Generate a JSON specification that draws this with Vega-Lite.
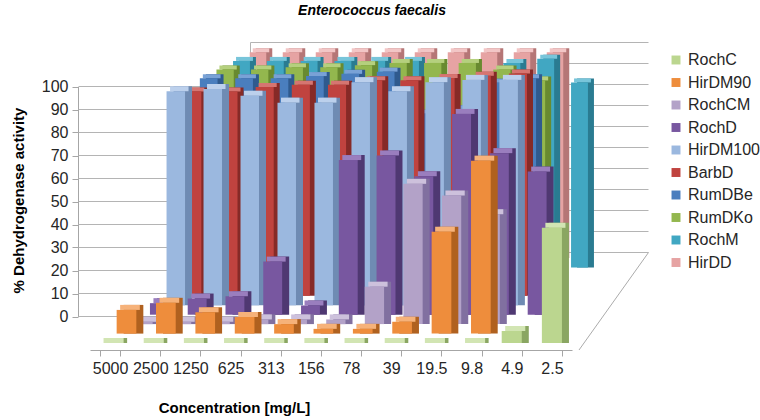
{
"$schema":"https://vega.github.io/schema/vega-lite/v6.json",
"width":760,"height":398,
"autosize":{"type":"none"},
"padding":{"left":0,"right":0,"top":22,"bottom":0},
"config":{"font":"Liberation Sans","view":{"stroke":null},"legend":{"labelFont":"Liberation Sans"}},
"title":{"text":"Enterococcus faecalis","fontSize":14,"fontWeight":"bold","fontStyle":"italic","color":"#000000","anchor":"middle","offset":4,"dx":-8},
"data":{"values":[
{"series":"RochC","conc":"5000","value":0},{"series":"RochC","conc":"2500","value":0},{"series":"RochC","conc":"1250","value":0},{"series":"RochC","conc":"625","value":0},{"series":"RochC","conc":"313","value":0},{"series":"RochC","conc":"156","value":0},{"series":"RochC","conc":"78","value":0},{"series":"RochC","conc":"39","value":0},{"series":"RochC","conc":"19.5","value":0},{"series":"RochC","conc":"9.8","value":0},{"series":"RochC","conc":"4.9","value":5},{"series":"RochC","conc":"2.5","value":48},
{"series":"HirDM90","conc":"5000","value":10},{"series":"HirDM90","conc":"2500","value":13},{"series":"HirDM90","conc":"1250","value":9},{"series":"HirDM90","conc":"625","value":7},{"series":"HirDM90","conc":"313","value":4},{"series":"HirDM90","conc":"156","value":2},{"series":"HirDM90","conc":"78","value":2},{"series":"HirDM90","conc":"39","value":5},{"series":"HirDM90","conc":"19.5","value":43},{"series":"HirDM90","conc":"9.8","value":73},
{"series":"RochCM","conc":"5000","value":1},{"series":"RochCM","conc":"2500","value":1},{"series":"RochCM","conc":"1250","value":1},{"series":"RochCM","conc":"625","value":2},{"series":"RochCM","conc":"313","value":2},{"series":"RochCM","conc":"156","value":2},{"series":"RochCM","conc":"78","value":16},{"series":"RochCM","conc":"39","value":60},{"series":"RochCM","conc":"19.5","value":55},{"series":"RochCM","conc":"9.8","value":47},
{"series":"RochD","conc":"5000","value":5},{"series":"RochD","conc":"2500","value":7},{"series":"RochD","conc":"1250","value":8},{"series":"RochD","conc":"625","value":23},{"series":"RochD","conc":"313","value":4},{"series":"RochD","conc":"156","value":67},{"series":"RochD","conc":"78","value":69},{"series":"RochD","conc":"39","value":60},{"series":"RochD","conc":"19.5","value":87},{"series":"RochD","conc":"9.8","value":70},{"series":"RochD","conc":"4.9","value":62},
{"series":"HirDM100","conc":"5000","value":94},{"series":"HirDM100","conc":"2500","value":95},{"series":"HirDM100","conc":"1250","value":92},{"series":"HirDM100","conc":"625","value":89},{"series":"HirDM100","conc":"313","value":89},{"series":"HirDM100","conc":"156","value":98},{"series":"HirDM100","conc":"78","value":94},{"series":"HirDM100","conc":"39","value":98},{"series":"HirDM100","conc":"19.5","value":99},{"series":"HirDM100","conc":"9.8","value":99},
{"series":"BarbD","conc":"5000","value":91},{"series":"BarbD","conc":"2500","value":91},{"series":"BarbD","conc":"1250","value":93},{"series":"BarbD","conc":"625","value":94},{"series":"BarbD","conc":"313","value":94},{"series":"BarbD","conc":"156","value":96},{"series":"BarbD","conc":"78","value":96},{"series":"BarbD","conc":"39","value":97},{"series":"BarbD","conc":"19.5","value":98},{"series":"BarbD","conc":"9.8","value":99},
{"series":"RumDBe","conc":"5000","value":94},{"series":"RumDBe","conc":"2500","value":94},{"series":"RumDBe","conc":"1250","value":94},{"series":"RumDBe","conc":"625","value":95},{"series":"RumDBe","conc":"313","value":96},{"series":"RumDBe","conc":"156","value":97},{"series":"RumDBe","conc":"78","value":78},{"series":"RumDBe","conc":"39","value":80},{"series":"RumDBe","conc":"19.5","value":92},{"series":"RumDBe","conc":"9.8","value":94},
{"series":"RumDKo","conc":"5000","value":95},{"series":"RumDKo","conc":"2500","value":95},{"series":"RumDKo","conc":"1250","value":96},{"series":"RumDKo","conc":"625","value":96},{"series":"RumDKo","conc":"313","value":97},{"series":"RumDKo","conc":"156","value":98},{"series":"RumDKo","conc":"78","value":98},{"series":"RumDKo","conc":"39","value":98},{"series":"RumDKo","conc":"19.5","value":95},{"series":"RumDKo","conc":"9.8","value":90},
{"series":"RochM","conc":"5000","value":96},{"series":"RochM","conc":"2500","value":96},{"series":"RochM","conc":"1250","value":96},{"series":"RochM","conc":"625","value":96},{"series":"RochM","conc":"313","value":96},{"series":"RochM","conc":"156","value":96},{"series":"RochM","conc":"78","value":80},{"series":"RochM","conc":"39","value":80},{"series":"RochM","conc":"19.5","value":95},{"series":"RochM","conc":"9.8","value":97},{"series":"RochM","conc":"4.9","value":86},
{"series":"HirDD","conc":"5000","value":97},{"series":"HirDD","conc":"2500","value":97},{"series":"HirDD","conc":"1250","value":97},{"series":"HirDD","conc":"625","value":97},{"series":"HirDD","conc":"313","value":97},{"series":"HirDD","conc":"156","value":97},{"series":"HirDD","conc":"78","value":97},{"series":"HirDD","conc":"39","value":97},{"series":"HirDD","conc":"19.5","value":97},{"series":"HirDD","conc":"9.8","value":97}
]},
"resolve":{"scale":{"x":"independent","y":"independent"},"axis":{"x":"independent","y":"independent"}},
"layer":[
{"data":{"values":[{"wall":0},{"wall":10},{"wall":20},{"wall":30},{"wall":40},{"wall":50},{"wall":60},{"wall":70},{"wall":80},{"wall":90},{"wall":100}]},"mark":{"type":"rule","color":"#B4B4B4","strokeWidth":1},
 "encoding":{"x":{"datum":0,"type":"quantitative","scale":{"domain":[0,1],"range":[250.5,648.5]},"axis":null},"x2":{"datum":1},
 "y":{"field":"wall","type":"quantitative","stack":null,"scale":{"domain":[0,100],"range":[230.5,20.5],"nice":false},"axis":null}}},
{"data":{"values":[{"edge":"back-left"}]},"mark":{"type":"rule","color":"#B4B4B4","strokeWidth":1},
 "encoding":{"x":{"datum":0,"type":"quantitative","scale":{"domain":[0,1],"range":[250.5,648.5]},"axis":null},
 "y":{"datum":0,"type":"quantitative","scale":{"domain":[0,100],"range":[230.5,20.5],"nice":false},"axis":null},"y2":{"datum":100}}},
{"data":{"values":[{"edge":"floor-right"}]},"mark":{"type":"rule","color":"#ABABAB","strokeWidth":1},
 "encoding":{"x":{"datum":0,"type":"quantitative","scale":{"domain":[0,1],"range":[579,648.5]},"axis":null},"x2":{"datum":1},
 "y":{"datum":0,"type":"quantitative","scale":{"domain":[0,1],"range":[328,230.5],"nice":false},"axis":null},"y2":{"datum":1}}},
{"data":{"values":[{"side":0},{"side":10},{"side":20},{"side":30},{"side":40},{"side":50},{"side":60},{"side":70},{"side":80},{"side":90},{"side":100}]},"mark":{"type":"rule","color":"#B4B4B4","strokeWidth":1},
 "encoding":{"x":{"datum":0,"type":"quantitative","scale":{"domain":[0,1],"range":[78.5,250.5]},"axis":null},"x2":{"datum":1},
 "y":{"field":"side","type":"quantitative","stack":null,"scale":{"domain":[0,100],"range":[294.5,64.5],"nice":false},
  "axis":{"orient":"left","offset":-78,"values":[0,10,20,30,40,50,60,70,80,90,100],"grid":false,"domainColor":"#A6A6A6","tickColor":"#A6A6A6","tickSize":6,"labelPadding":4,"labelFontSize":16,"labelColor":"#262626","title":"% Dehydrogenase activity","titleFontSize":15,"titleFontWeight":"bold","titleColor":"#000000","titleX":-60,"titleY":178,"titleAngle":-90,"titleAlign":"center","titleBaseline":"middle"}}}},
{"transform":[{"filter":"datum.series === 'HirDD'"}],
 "encoding":{"x":{"field":"conc","type":"ordinal","scale":{"type":"band","domain":["5000","2500","1250","625","313","156","78","39","19.5","9.8","4.9","2.5"],"range":[241.5,637.5],"paddingInner":0.5,"paddingOuter":0.25},"axis":null},
 "y":{"field":"value","type":"quantitative","stack":null,"scale":{"domain":[0,100],"range":[236,23.9],"nice":false},"axis":null}},
 "layer":[{"mark":{"type":"bar","color":"#B57676","xOffset":6,"yOffset":-4,"y2Offset":-4}},
 {"mark":{"type":"bar","color":"#F2C6C6","xOffset":3,"yOffset":-4},"encoding":{"y2":{"field":"value"}}},
 {"mark":{"type":"bar"},"encoding":{"color":{"field":"series","type":"nominal","scale":{"domain":["RochC","HirDM90","RochCM","RochD","HirDM100","BarbD","RumDBe","RumDKo","RochM","HirDD"],"range":["#BBD68F","#EE8D3C","#B3A2C8","#7857A0","#9BB8DF","#C0433F","#4A7EBE","#93B74E","#41A7C2","#E6A3A3"]},"legend":{"title":null,"orient":"none","legendX":668,"legendY":30,"symbolType":"square","symbolSize":80,"labelFontSize":16,"labelColor":"#262626","rowPadding":6.5,"labelOffset":4}}}}]},
{"transform":[{"filter":"datum.series === 'RochM'"}],
 "encoding":{"x":{"field":"conc","type":"ordinal","scale":{"type":"band","domain":["5000","2500","1250","625","313","156","78","39","19.5","9.8","4.9","2.5"],"range":[224.6,630.2],"paddingInner":0.5,"paddingOuter":0.25},"axis":null},
 "y":{"field":"value","type":"quantitative","stack":null,"scale":{"domain":[0,100],"range":[245.5,30.3],"nice":false},"axis":null}},
 "layer":[{"mark":{"type":"bar","color":"#2A7B91","xOffset":6,"yOffset":-4,"y2Offset":-4}},
 {"mark":{"type":"bar","color":"#78C5DA","xOffset":3,"yOffset":-4},"encoding":{"y2":{"field":"value"}}},
 {"mark":{"type":"bar"},"encoding":{"color":{"field":"series","type":"nominal"}}}]},
{"transform":[{"filter":"datum.series === 'RumDKo'"}],
 "encoding":{"x":{"field":"conc","type":"ordinal","scale":{"type":"band","domain":["5000","2500","1250","625","313","156","78","39","19.5","9.8","4.9","2.5"],"range":[207.8,623],"paddingInner":0.5,"paddingOuter":0.25},"axis":null},
 "y":{"field":"value","type":"quantitative","stack":null,"scale":{"domain":[0,100],"range":[254.9,36.6],"nice":false},"axis":null}},
 "layer":[{"mark":{"type":"bar","color":"#688A30","xOffset":6,"yOffset":-4,"y2Offset":-4}},
 {"mark":{"type":"bar","color":"#B5D07E","xOffset":3,"yOffset":-4},"encoding":{"y2":{"field":"value"}}},
 {"mark":{"type":"bar"},"encoding":{"color":{"field":"series","type":"nominal"}}}]},
{"transform":[{"filter":"datum.series === 'RumDBe'"}],
 "encoding":{"x":{"field":"conc","type":"ordinal","scale":{"type":"band","domain":["5000","2500","1250","625","313","156","78","39","19.5","9.8","4.9","2.5"],"range":[191,615.7],"paddingInner":0.5,"paddingOuter":0.25},"axis":null},
 "y":{"field":"value","type":"quantitative","stack":null,"scale":{"domain":[0,100],"range":[264.4,43],"nice":false},"axis":null}},
 "layer":[{"mark":{"type":"bar","color":"#2F5A8E","xOffset":6,"yOffset":-4,"y2Offset":-4}},
 {"mark":{"type":"bar","color":"#79A2D6","xOffset":3,"yOffset":-4},"encoding":{"y2":{"field":"value"}}},
 {"mark":{"type":"bar"},"encoding":{"color":{"field":"series","type":"nominal"}}}]},
{"transform":[{"filter":"datum.series === 'BarbD'"}],
 "encoding":{"x":{"field":"conc","type":"ordinal","scale":{"type":"band","domain":["5000","2500","1250","625","313","156","78","39","19.5","9.8","4.9","2.5"],"range":[174.2,608.4],"paddingInner":0.5,"paddingOuter":0.25},"axis":null},
 "y":{"field":"value","type":"quantitative","stack":null,"scale":{"domain":[0,100],"range":[273.8,49.3],"nice":false},"axis":null}},
 "layer":[{"mark":{"type":"bar","color":"#862A27","xOffset":6,"yOffset":-4,"y2Offset":-4}},
 {"mark":{"type":"bar","color":"#D67571","xOffset":3,"yOffset":-4},"encoding":{"y2":{"field":"value"}}},
 {"mark":{"type":"bar"},"encoding":{"color":{"field":"series","type":"nominal"}}}]},
{"transform":[{"filter":"datum.series === 'HirDM100'"}],
 "encoding":{"x":{"field":"conc","type":"ordinal","scale":{"type":"band","domain":["5000","2500","1250","625","313","156","78","39","19.5","9.8","4.9","2.5"],"range":[157.3,601.1],"paddingInner":0.5,"paddingOuter":0.25},"axis":null},
 "y":{"field":"value","type":"quantitative","stack":null,"scale":{"domain":[0,100],"range":[283.2,55.6],"nice":false},"axis":null}},
 "layer":[{"mark":{"type":"bar","color":"#6F8BB3","xOffset":7,"yOffset":-5,"y2Offset":-5}},
 {"mark":{"type":"bar","color":"#BCD0EC","xOffset":3.5,"yOffset":-5},"encoding":{"y2":{"field":"value"}}},
 {"mark":{"type":"bar"},"encoding":{"color":{"field":"series","type":"nominal"}}}]},
{"transform":[{"filter":"datum.series === 'RochD'"}],
 "encoding":{"x":{"field":"conc","type":"ordinal","scale":{"type":"band","domain":["5000","2500","1250","625","313","156","78","39","19.5","9.8","4.9","2.5"],"range":[140.5,593.8],"paddingInner":0.5,"paddingOuter":0.25},"axis":null},
 "y":{"field":"value","type":"quantitative","stack":null,"scale":{"domain":[0,100],"range":[292.7,61.9],"nice":false},"axis":null}},
 "layer":[{"mark":{"type":"bar","color":"#4F3872","xOffset":7,"yOffset":-5,"y2Offset":-5}},
 {"mark":{"type":"bar","color":"#9A7EBE","xOffset":3.5,"yOffset":-5},"encoding":{"y2":{"field":"value"}}},
 {"mark":{"type":"bar"},"encoding":{"color":{"field":"series","type":"nominal"}}}]},
{"transform":[{"filter":"datum.series === 'RochCM'"}],
 "encoding":{"x":{"field":"conc","type":"ordinal","scale":{"type":"band","domain":["5000","2500","1250","625","313","156","78","39","19.5","9.8","4.9","2.5"],"range":[123.7,586.6],"paddingInner":0.5,"paddingOuter":0.25},"axis":null},
 "y":{"field":"value","type":"quantitative","stack":null,"scale":{"domain":[0,100],"range":[302.1,68.3],"nice":false},"axis":null}},
 "layer":[{"mark":{"type":"bar","color":"#8170A0","xOffset":7,"yOffset":-5,"y2Offset":-5}},
 {"mark":{"type":"bar","color":"#CDC1DC","xOffset":3.5,"yOffset":-5},"encoding":{"y2":{"field":"value"}}},
 {"mark":{"type":"bar"},"encoding":{"color":{"field":"series","type":"nominal"}}}]},
{"transform":[{"filter":"datum.series === 'HirDM90'"}],
 "encoding":{"x":{"field":"conc","type":"ordinal","scale":{"type":"band","domain":["5000","2500","1250","625","313","156","78","39","19.5","9.8","4.9","2.5"],"range":[106.8,579.3],"paddingInner":0.5,"paddingOuter":0.25},"axis":null},
 "y":{"field":"value","type":"quantitative","stack":null,"scale":{"domain":[0,100],"range":[311.6,74.7],"nice":false},"axis":null}},
 "layer":[{"mark":{"type":"bar","color":"#B0611F","xOffset":7,"yOffset":-5,"y2Offset":-5}},
 {"mark":{"type":"bar","color":"#F6B27A","xOffset":3.5,"yOffset":-5},"encoding":{"y2":{"field":"value"}}},
 {"mark":{"type":"bar"},"encoding":{"color":{"field":"series","type":"nominal"}}}]},
{"transform":[{"filter":"datum.series === 'RochC'"}],
 "encoding":{"x":{"field":"conc","type":"ordinal","scale":{"type":"band","domain":["5000","2500","1250","625","313","156","78","39","19.5","9.8","4.9","2.5"],"range":[90,572],"paddingInner":0.5,"paddingOuter":0.25},
   "axis":{"orient":"bottom","offset":-70,"tickBand":"extent","domainColor":"#A6A6A6","tickColor":"#A6A6A6","tickSize":6,"labelFontSize":16,"labelColor":"#262626","labelPadding":4,"labelAngle":0,"labelOverlap":false,"labelFlush":false,"grid":false,"title":"Concentration [mg/L]","titleFontSize":15,"titleFontWeight":"bold","titleColor":"#000000","titleX":234,"titleY":57,"titleAlign":"center","titleBaseline":"middle"}},
 "y":{"field":"value","type":"quantitative","stack":null,"scale":{"domain":[0,100],"range":[321,81],"nice":false},"axis":null}},
 "layer":[{"mark":{"type":"bar","color":"#8AA662","xOffset":7,"yOffset":-5,"y2Offset":-5}},
 {"mark":{"type":"bar","color":"#D2E5B3","xOffset":3.5,"yOffset":-5},"encoding":{"y2":{"field":"value"}}},
 {"mark":{"type":"bar"},"encoding":{"color":{"field":"series","type":"nominal"}}}]}
]
}
